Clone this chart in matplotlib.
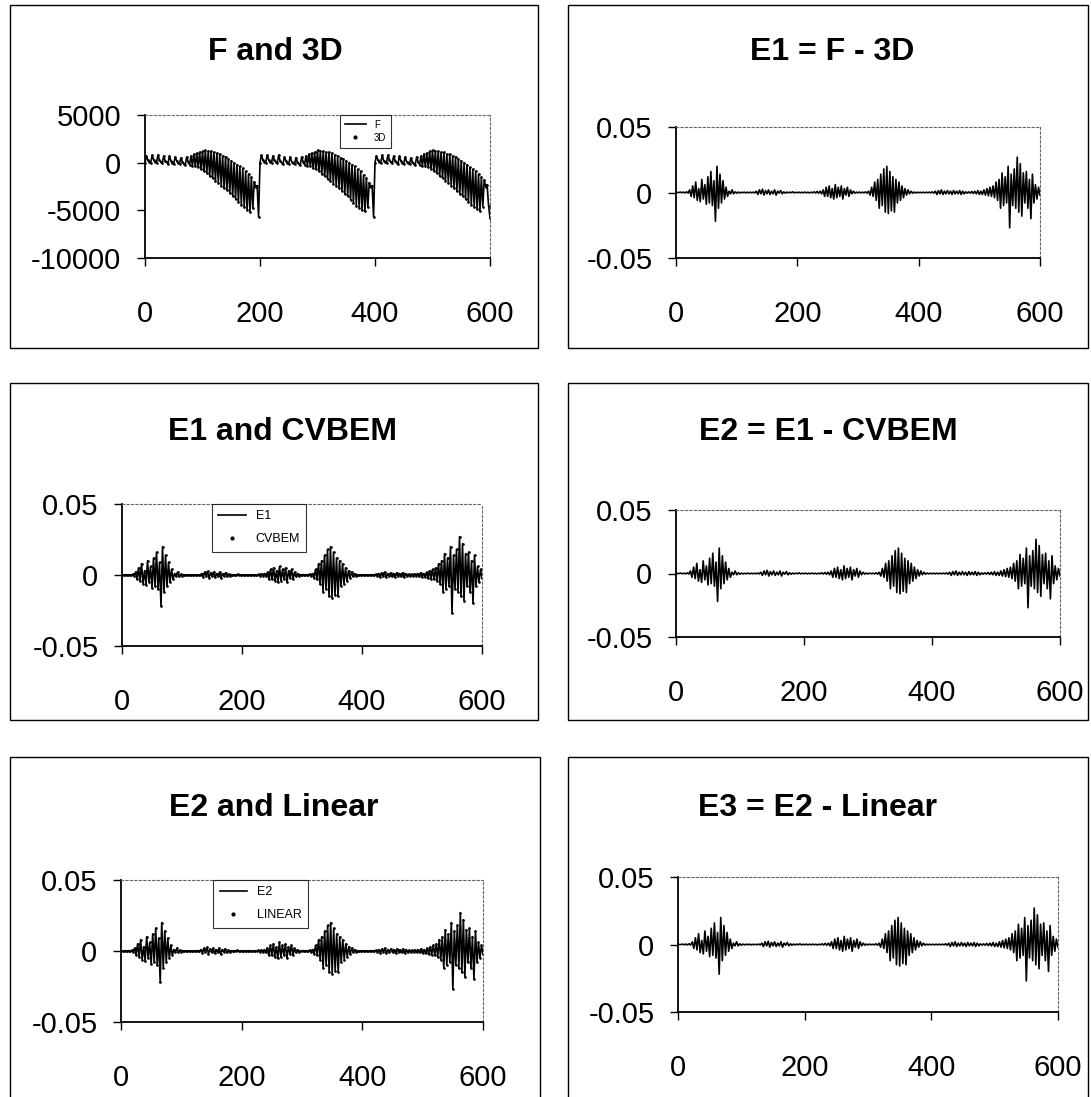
import numpy as np
import matplotlib
matplotlib.use("Agg")
import matplotlib.pyplot as plt
from matplotlib.lines import Line2D
from matplotlib.patches import Rectangle

plt.rcParams['font.family'] = ['Liberation Sans', 'DejaVu Sans']

# ---------------- data ----------------
# F: three identical-looking cycles of 200 units, sampled every 2.5 units
F = [
    # cycle 1, x = 0 .. 77.5
    0, 700, 300, 100, 0, 800, 300, 100, 0, 800, 300, 100, -50, 700, 200, 50,
    -100, 700, 200, 0, -100, 600, 200, 0, -100, 500, 100, -100, -200, 600, 100, -200,
    # cycle 1, x = 80 .. 197.5
    700, -300, 900, -400, 1000, -500, 1100, -700, 1200, -900, 1300, -1100,
    1200, -1400, 1200, -1600, 1100, -1900, 1000, -2100, 900, -2400, 700, -2700,
    600, -2900, 400, -3200, 200, -3500, 0, -3800, -200, -4100, -400, -4400,
    -600, -4700, -900, -5000, -1200, -5200, -1500, -4800, -2000, -2600, -2400, -5700,
    # cycle 2, x = 200 .. 277.5
    0, 800, 300, 100, 0, 800, 300, 50, 0, 700, 300, 100, -50, 800, 200, 0,
    -100, 600, 200, 0, -100, 600, 100, 0, -150, 500, 100, -100, -200, 600, 100, -200,
    # cycle 2, x = 280 .. 397.5
    700, -300, 900, -400, 1000, -600, 1100, -700, 1300, -900, 1200, -1200,
    1200, -1400, 1100, -1700, 1100, -1900, 1000, -2200, 800, -2400, 700, -2700,
    500, -3000, 400, -3300, 200, -3500, 0, -3900, -200, -4200, -400, -4500,
    -700, -4800, -900, -5000, -1300, -5100, -1600, -4700, -2100, -2600, -2400, -5700,
    # cycle 3, x = 400 .. 477.5
    0, 700, 300, 100, 0, 800, 200, 100, 0, 800, 300, 50, -50, 700, 200, 0,
    -100, 700, 200, 0, -100, 600, 100, 0, -100, 500, 100, -100, -200, 600, 100, -200,
    # cycle 3, x = 480 .. 597.5
    700, -300, 900, -400, 1000, -500, 1200, -700, 1300, -900, 1200, -1100,
    1200, -1400, 1100, -1600, 1100, -1900, 900, -2100, 900, -2400, 700, -2700,
    600, -3000, 400, -3300, 200, -3500, 0, -3800, -200, -4100, -500, -4400,
    -700, -4600, -900, -4900, -1200, -5100, -1500, -4600, -1800, -2500, -2300, -4500,
    # x = 600
    -5800,
]
# 3D solution: indistinguishable from F at this scale
D3 = list(F)

# E1 = F - 3D, in units of 0.001, sampled every 2.5 units
E1_milli = [
    0, 0, 0, 0.3, -0.2, 0.3, -0.3, 0.5, -0.4,
    2, -3, 5, -4, 8, -6, 3, -7, 10, -5, 6, -9, 12, -8, 16, -10, 9, -22, 20, -12,
    14, -8, 9, -5, 4, -3,
    1, -1, 2, -1, 0.5, -0.5, 0.3, -0.3, 0.2, -0.2, 0.3, -0.3, 0.2, -0.2, 0.2, -0.2, 0.3, -0.3,
    1, -1.5, 2, -1, 2.5, -2, 1.5, -1, 2, -1.5, 1, -1, 2, -2, 1, -0.5, 1.5, -1, 0.5, -0.5, 0.3, -0.3,
    0.3, -0.2, 0.5, -0.3, 0.2, -0.2, 0.3, -0.3, 0.2, -0.2, 0.3, -0.2, 0.2, -0.3, 0.2, -0.2,
    0.5, -0.4, 0.8, -0.6, 1, -1,
    2, -3, 4, -3, 5, -4, 3, -5, 6, -4, 4, -3, 5, -5, 3, -2, 4, -3, 2, -1, 1,
    -0.5, 0.3, -0.3, 0.3, -0.2, 0.2, -0.3, 0.5, -0.5, 1,
    -2, 4, -3, 8, -6, 10, -12, 14, -10, 18, -15, 20, -16, 16, -14, 12, -15, 10, -8, 8,
    -6, 5, -4, 3, -2, 2, -1,
    1, -0.5, 0.3, -0.3, 0.2, -0.2, 0.2, -0.2, 0.2, -0.2, 0.2, -0.2, 0.3, -0.3, 0.5, -0.5,
    1, -1.5, 1.5, -1, 2, -1.5, 1, -1, 1.5, -1, 1, -1.5, 1.5, -1, 1, -1, 1.5, -1.5, 1, -1,
    0.5, -0.5, 0.5, -0.5, 0.8, -0.8, 1, -1, 1.5, -1.5,
    1, -1.5, 2, -2, 3, -2.5, 4, -3, 5, -4, 8, -6, 10, -12, 15, -10, 12, -8, 20, -27,
    14, -10, 18, -12, 27, -15, 22, -18, 15, -8, 16, -12, 10, -20, 14, -8, 6, -5, 4, -2,
]
# the residual series look the same in every panel
CVBEM_milli = list(E1_milli)
E2_milli = list(E1_milli)
LINEAR_milli = list(E1_milli)
E3_milli = list(E1_milli)

x_ticks = [0, 200, 400, 600]
titles = ["F and 3D", "E1 = F - 3D", "E1 and CVBEM",
          "E2 = E1 - CVBEM", "E2 and Linear", "E3 = E2 - Linear"]
yticks_F = [5000, 0, -5000, -10000]
yticks_E = [0.05, 0, -0.05]

# ---------------- layout ----------------
W, H = 1091, 1097
fig = plt.figure(figsize=(W / 100, H / 100), dpi=100)


def rect(px0, py0, px1, py1):
    return [px0 / W, 1 - py1 / H, (px1 - px0) / W, (py1 - py0) / H]


boxes = [(10, 5, 538, 348), (568, 5, 1088, 348),
         (10, 383, 538, 720), (568, 383, 1088, 720),
         (10, 757, 540, 1120), (568, 757, 1088, 1120)]
for b in boxes:
    r = rect(*b)
    fig.add_artist(Rectangle((r[0], r[1]), r[2], r[3], transform=fig.transFigure,
                             fill=False, ec='black', lw=1.0))

axes_px = [(145, 115, 490, 258), (676, 127, 1040, 258),
           (122, 504, 482, 646), (676, 510, 1060, 637),
           (121, 880, 483, 1022), (678, 877, 1058, 1012)]
title_pos = [(275, 52), (832, 52), (282, 432), (828, 432), (274, 808), (818, 808)]


def to_arr(v, scale=1.0):
    return np.asarray(v, dtype=float) * scale


xF = np.linspace(0, 600, len(F))
xE = np.linspace(0, 600, len(E1_milli))

series = [
    (xF, to_arr(F), ("F", "3D"), to_arr(D3)),
    (xE, to_arr(E1_milli, 1e-3), None, None),
    (xE, to_arr(E1_milli, 1e-3), ("E1", "CVBEM"), to_arr(CVBEM_milli, 1e-3)),
    (xE, to_arr(E2_milli, 1e-3), None, None),
    (xE, to_arr(E2_milli, 1e-3), ("E2", "LINEAR"), to_arr(LINEAR_milli, 1e-3)),
    (xE, to_arr(E3_milli, 1e-3), None, None),
]
legend_anchor = {0: (0.565, 1.0, 7), 2: (0.25, 1.0, 9), 4: (0.255, 1.0, 9)}

for i, (ap, (xs, ys, leg, dots)) in enumerate(zip(axes_px, series)):
    ax = fig.add_axes(rect(*ap))
    ax.plot(xs, ys, color='black', lw=1.2)
    if dots is not None:
        ax.plot(xs, dots, ls='none', marker='.', ms=1.8, color='black')
    ax.set_xlim(0, 600)
    if i == 0:
        ax.set_ylim(-10000, 5000)
        ax.set_yticks(yticks_F)
        ax.set_yticklabels([str(v) for v in yticks_F])
    else:
        ax.set_ylim(-0.05, 0.05)
        ax.set_yticks(yticks_E)
        ax.set_yticklabels([f"{v:g}" for v in yticks_E])
    ax.set_xticks(x_ticks)
    ax.set_xticklabels([str(v) for v in x_ticks])
    ax.tick_params(axis='x', direction='out', length=6, width=1.0, pad=24, labelsize=21)
    ax.tick_params(axis='y', direction='out', length=6, width=1.0, pad=11, labelsize=21)
    for s in ('left', 'bottom'):
        ax.spines[s].set_linewidth(1.3)
        ax.spines[s].set_color('black')
    for s in ('top', 'right'):
        ax.spines[s].set_linestyle((0, (2, 2)))
        ax.spines[s].set_linewidth(0.8)
        ax.spines[s].set_color('#666666')
    if leg is not None:
        lx, ly, fs = legend_anchor[i]
        handles = [Line2D([], [], color='black', lw=1.2),
                   Line2D([], [], ls='none', marker='.', ms=4, color='black')]
        lg = ax.legend(handles, list(leg), loc='upper left', bbox_to_anchor=(lx, ly),
                       fontsize=fs, frameon=True, fancybox=False, borderpad=0.5,
                       handlelength=2.2, labelspacing=0.9 if fs > 8 else 0.3,
                       borderaxespad=0)
        lg.get_frame().set_edgecolor('black')
        lg.get_frame().set_linewidth(0.8)
    tx, ty = title_pos[i]
    fig.text(tx / W, 1 - ty / H, titles[i], ha='center', va='center',
             fontsize=23, fontweight='bold')

fig.savefig("out.png", dpi=100)
